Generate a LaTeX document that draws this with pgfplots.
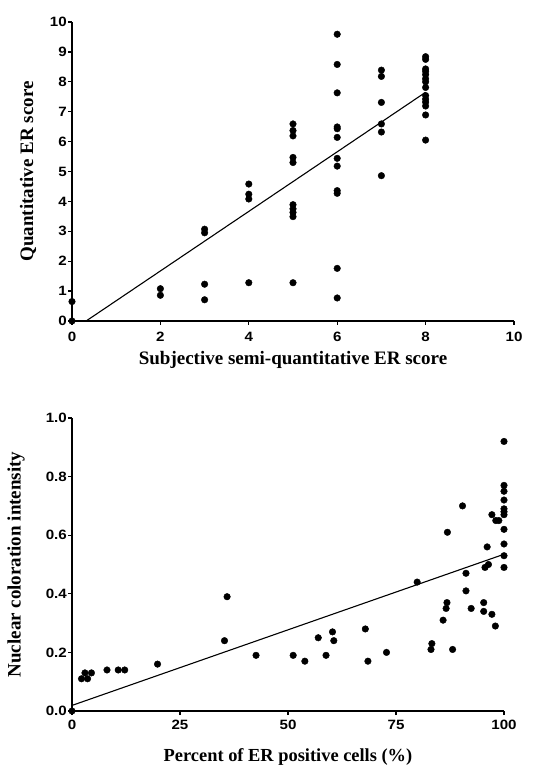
\documentclass[border=0pt]{standalone}
\usepackage{fontspec}
\setmainfont{Liberation Serif}
\newfontfamily\tickfont[FakeStretch=1.12]{Liberation Sans}
\usepackage{pgfplots}
\pgfplotsset{compat=1.18}
\begin{document}
\begin{tikzpicture}
\useasboundingbox (0pt,0pt) rectangle (533pt,767pt);
\pgfplotsset{
  prism/.style={
    scale only axis,
    anchor=south west,
    axis x line*=bottom,
    axis y line*=left,
    axis line style={line width=1.7pt,-},
    tick align=outside,
    major tick length=4pt,
    tick style={line width=1.3pt,black},
    /pgf/number format/assume math mode=true,
    ticklabel style={font=\tickfont\bfseries\fontsize{13.5}{14}\selectfont},
    yticklabel style={inner xsep=1pt},
    label style={font=\bfseries\fontsize{19}{20}\selectfont},
    clip=false,
  },
  dots/.style={only marks, mark=*, mark size=3.3pt, mark options={fill=black,draw=black}},
}
\begin{axis}[prism,
  at={(72pt,446pt)}, width=442pt, height=299pt,
  xmin=0, xmax=10, ymin=0, ymax=10,
  xtick={0,2,4,6,8,10}, ytick={0,1,...,10},
  xticklabel style={yshift=-4pt},
  xlabel={Subjective semi-quantitative ER score},
  ylabel={Quantitative ER score},
  xlabel style={at={([yshift=-39pt]axis description cs:0.5,0)}, anchor=center},
  ylabel style={at={([xshift=-44pt]axis description cs:0,0.5)}, anchor=center},
]
\addplot[dots] coordinates {
(0,0.65) (0,0)
(2,1.08) (2,0.86)
(3,3.07) (3,2.95) (3,1.23) (3,0.71)
(4,4.58) (4,4.24) (4,4.08) (4,1.28)
(5,6.59) (5,6.37) (5,6.19) (5,5.47) (5,5.30) (5,3.89) (5,3.75) (5,3.63) (5,3.49) (5,1.28)
(6,9.59) (6,8.58) (6,7.63) (6,6.49) (6,6.43) (6,6.14) (6,5.44) (6,5.18) (6,4.36) (6,4.27) (6,1.76) (6,0.77)
(7,8.39) (7,8.18) (7,7.31) (7,6.59) (7,6.32) (7,4.86)
(8,8.84) (8,8.75) (8,8.43) (8,8.35) (8,8.24) (8,8.10) (8,8.00) (8,7.81) (8,7.54) (8,7.42) (8,7.32) (8,7.19) (8,6.89) (8,6.05)
};
\addplot[black, line width=1.1pt] coordinates {(0.32,0) (8,7.65)};
\end{axis}
\begin{axis}[prism,
  at={(72pt,56pt)}, width=432pt, height=293pt,
  xmin=0, xmax=100, ymin=0, ymax=1,
  xtick={0,25,50,75,100}, ytick={0,0.2,...,1.0},
  xticklabel style={yshift=-2pt},
  yticklabel style={/pgf/number format/.cd, fixed, fixed zerofill, precision=1},
  xlabel={Percent of ER positive cells (\%)},
  ylabel={Nuclear coloration intensity},
  xlabel style={at={([yshift=-46pt]axis description cs:0.5,0)}, anchor=center, font=\bfseries\fontsize{18.4}{20}\selectfont},
  ylabel style={at={([xshift=-56pt]axis description cs:0,0.5)}, anchor=center},
]
\addplot[dots] coordinates {
(0,0) (2.2,0.11) (3.0,0.13) (3.6,0.11) (4.5,0.13) (8.1,0.14) (10.7,0.14) (12.2,0.14) (19.8,0.16)
(35.3,0.24) (35.9,0.39) (42.6,0.19) (51.2,0.19) (53.9,0.17) (57.0,0.25) (58.8,0.19) (60.3,0.27) (60.6,0.24)
(67.9,0.28) (68.5,0.17) (72.8,0.20) (79.9,0.44) (83.1,0.21) (83.3,0.23) (85.9,0.31) (86.6,0.35) (86.8,0.37)
(86.9,0.61) (88.1,0.21) (90.4,0.70) (91.2,0.47) (91.2,0.41) (92.4,0.35) (95.3,0.37) (95.3,0.34) (95.6,0.49)
(96.1,0.56) (96.4,0.50) (97.2,0.67) (97.2,0.33) (98.0,0.29) (98.1,0.65) (98.8,0.65)
(100,0.92) (100,0.77) (100,0.75) (100,0.72) (100,0.69) (100,0.68) (100,0.67) (100,0.62) (100,0.57) (100,0.53) (100,0.49)
};
\addplot[black, line width=1.1pt] coordinates {(0,0.019) (100,0.535)};
\end{axis}
\end{tikzpicture}
\end{document}
